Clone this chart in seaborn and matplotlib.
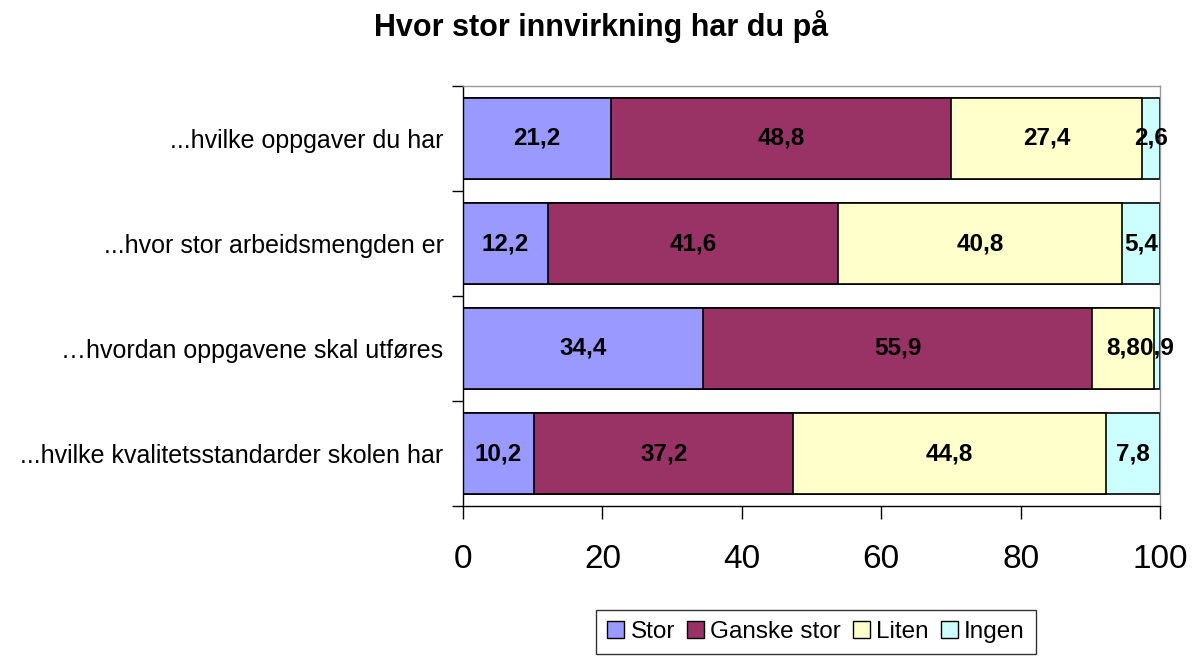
import matplotlib
matplotlib.use("Agg")
import matplotlib.pyplot as plt
import seaborn as sns
import pandas as pd
import numpy as np
from matplotlib.patches import Patch

kategorier = [
    "...hvilke oppgaver du har",
    "...hvor stor arbeidsmengden er",
    "\u2026hvordan oppgavene skal utføres",
    "...hvilke kvalitetsstandarder skolen har",
]
serier = ["Stor", "Ganske stor", "Liten", "Ingen"]
stor = [21.2, 12.2, 34.4, 10.2]
ganske_stor = [48.8, 41.6, 55.9, 37.2]
liten = [27.4, 40.8, 8.8, 44.8]
ingen = [2.6, 5.4, 0.9, 7.8]
farger = ["#9999FF", "#993366", "#FFFFCC", "#CCFFFF"]

sns.set_style("white")
plt.rcParams["font.family"] = ["Liberation Sans", "DejaVu Sans"]
plt.rcParams["text.color"] = "black"
plt.rcParams["xtick.color"] = "black"
plt.rcParams["ytick.color"] = "black"

df = pd.DataFrame({"kategori": kategorier, "Stor": stor, "Ganske stor": ganske_stor,
                   "Liten": liten, "Ingen": ingen})
kum = df[serier].cumsum(axis=1)

fig = plt.figure(figsize=(11.97, 6.56), dpi=100)
ax = fig.add_axes([463 / 1197, 1 - 506 / 656, (1160 - 463) / 1197, 420 / 656])

# stablede stolper: tegn kumulative summer bakfra
for i in range(len(serier) - 1, -1, -1):
    s = serier[i]
    sns.barplot(x=kum[s], y=df["kategori"], color=farger[i], orient="h",
                edgecolor="black", linewidth=1.2, width=0.77, saturation=1, ax=ax)

# etiketter midt i hvert segment
for i, s in enumerate(serier):
    venstre = kum[s] - df[s]
    for j in range(len(kategorier)):
        ax.text(venstre[j] + df[s][j] / 2, j, f"{df[s][j]:.1f}".replace(".", ","),
                ha="center", va="center", fontsize=17.5, fontweight="bold", color="black")

ax.set_xlim(0, 100)
ax.set_ylim(3.5, -0.5)
ax.set_xticks(range(0, 101, 20))
ax.tick_params(axis="x", labelsize=24, length=9, width=1, direction="out", bottom=True, pad=18)
ax.set_yticks(range(len(kategorier)))
ax.set_yticklabels(kategorier, fontsize=18)
ax.tick_params(axis="y", length=0, pad=14)
ax.set_yticks(np.arange(-0.5, 4, 1), minor=True)
ax.tick_params(axis="y", which="minor", length=8, width=1, direction="out", left=True)
ax.set_xlabel("")
ax.set_ylabel("")

for side in ["left", "bottom"]:
    ax.spines[side].set_color("black")
    ax.spines[side].set_linewidth(1)
for side in ["top", "right"]:
    ax.spines[side].set_color("#999999")
    ax.spines[side].set_linewidth(1)

fig.suptitle("Hvor stor innvirkning har du på", fontsize=22, fontweight="bold", x=0.502, y=0.985)

handles = [Patch(facecolor=farger[i], edgecolor="black", label=serier[i]) for i in range(len(serier))]
leg = fig.legend(handles=handles, loc="center", bbox_to_anchor=(816 / 1197, 1 - 632 / 656),
                 ncol=4, fontsize=17.5, frameon=True, fancybox=False, handlelength=0.7,
                 handleheight=0.7, handletextpad=0.25, columnspacing=0.5, borderpad=0.45)
leg.get_frame().set_edgecolor("black")
leg.get_frame().set_linewidth(1)

fig.savefig("out.png", dpi=100)
